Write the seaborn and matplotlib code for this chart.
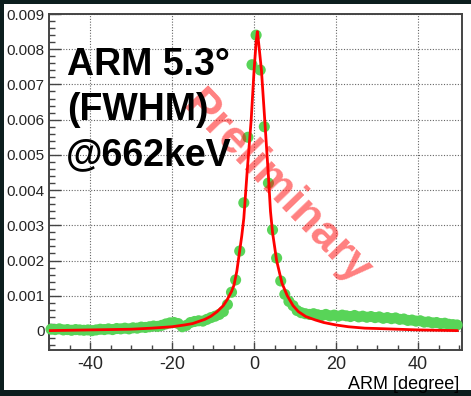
import numpy as np
import pandas as pd
import matplotlib
matplotlib.use("Agg")
import matplotlib.pyplot as plt
import seaborn as sns
from matplotlib.ticker import MultipleLocator, FuncFormatter
from matplotlib.patches import Rectangle

# ---- data ----
bin_centers = np.arange(-49.5, 50.0, 1.0)
counts = [
    0.00005, 0.00004, 0.00006, 0.00003, 0.00004, 0.00002, 0.00004, 0.00003, 0.00002, 0.00003,
    0.00001, 0.00003, 0.00005, 0.00004, 0.00006, 0.00004, 0.00007, 0.00006, 0.00008, 0.00006,
    0.00009, 0.00008, 0.00011, 0.00010, 0.00012, 0.00014, 0.00013, 0.00016, 0.00020, 0.00023,
    0.00024, 0.00021, 0.00012, 0.00016, 0.00024, 0.00027, 0.00029, 0.00028, 0.00033, 0.00038,
    0.00042, 0.00047, 0.00055, 0.00075, 0.00110, 0.00145, 0.00227, 0.00364, 0.00550, 0.00756,
    0.00840, 0.00741, 0.00580, 0.00420, 0.00287, 0.00207, 0.00142, 0.00104, 0.00084, 0.00072,
    0.00058, 0.00052, 0.00049, 0.00047, 0.00049, 0.00046, 0.00044, 0.00047, 0.00043, 0.00045,
    0.00042, 0.00045, 0.00043, 0.00041, 0.00044, 0.00040, 0.00042, 0.00039, 0.00041, 0.00038,
    0.00040, 0.00036, 0.00038, 0.00035, 0.00037, 0.00033, 0.00034, 0.00030, 0.00031, 0.00028,
    0.00029, 0.00025, 0.00026, 0.00023, 0.00024, 0.00021, 0.00022, 0.00019, 0.00018, 0.00017,
]

fit_x = [-50, -40, -30, -25, -20, -17, -15, -12, -10.5, -9, -7.5, -6.5, -5.5, -4.9, -4.2,
         -3.6, -3.0, -2.5, -1.7, -0.7, 0.0, 0.5, 0.8, 1.1, 1.8, 2.6, 3.5, 4.0, 4.5, 5.5,
         6.8, 8.1, 9.5, 10.8, 12.6, 15, 17, 20, 23, 27, 30, 35, 40, 45, 49.6]
fit_y = [0.00001, 0.00003, 0.00005, 0.00008, 0.00012, 0.00017, 0.00021, 0.00033, 0.00042,
         0.00055, 0.00072, 0.00090, 0.00112, 0.00130, 0.00170, 0.00220, 0.00270, 0.00320,
         0.00450, 0.00600, 0.00740, 0.00820, 0.00850, 0.00820, 0.00740, 0.00600, 0.00440,
         0.00340, 0.00280, 0.00200, 0.00136, 0.00100, 0.00072, 0.00055, 0.00041, 0.00031,
         0.00024, 0.00017, 0.00012, 0.00008, 0.00007, 0.00005, 0.00003, 0.00002, 0.00001]

x_ticks = [-40, -20, 0, 20, 40]
y_ticks = [0, 0.001, 0.002, 0.003, 0.004, 0.005, 0.006, 0.007, 0.008, 0.009]
x_label = "ARM [degree]"
annot_lines = ["ARM 5.3°", "(FWHM)", "@662keV"]
watermark = "Preliminary"

# ---- style ----
sns.set_style("white")
plt.rcParams["font.family"] = ["Liberation Sans", "DejaVu Sans"]
plt.rcParams["axes.unicode_minus"] = False

W, H = 471, 396
fig = plt.figure(figsize=(W / 100, H / 100), dpi=100, facecolor="#0c1e1e")
fig.patches.append(Rectangle((4 / W, 6 / H), 1 - 4 / W, 1 - 10 / H,
                             transform=fig.transFigure, facecolor="white",
                             edgecolor="none", zorder=-10))

ax = fig.add_axes([49 / W, 1 - 350 / H, (462 - 49) / W, (350 - 14) / H])
ax.set_facecolor("white")

df_pts = pd.DataFrame({"x": bin_centers, "y": counts})
df_fit = pd.DataFrame({"x": fit_x, "y": fit_y})

sns.scatterplot(data=df_pts, x="x", y="y", ax=ax, color="#58d458", s=64,
                edgecolor="none", linewidth=0, zorder=3, clip_on=False, legend=False)
sns.lineplot(data=df_fit, x="x", y="y", ax=ax, color="red", linewidth=2.0,
             zorder=4, sort=False, legend=False)

ax.set_xlim(-50, 50.7)
ax.set_ylim(-0.00054, 0.009)

ax.set_xticks(x_ticks)
ax.set_yticks(y_ticks)
ax.xaxis.set_minor_locator(MultipleLocator(5))
ax.yaxis.set_minor_locator(MultipleLocator(0.0002))
ax.yaxis.set_major_formatter(FuncFormatter(lambda v, p: "0" if abs(v) < 1e-12 else f"{v:.3f}"))

ax.tick_params(axis="x", which="major", direction="in", length=6, width=1, color="#444444",
               labelsize=13, pad=4, top=False, bottom=True)
ax.tick_params(axis="x", which="minor", direction="in", length=3.6, width=1, color="#444444",
               top=False, bottom=True)
ax.tick_params(axis="y", which="major", direction="in", length=8.5, width=1, color="#444444",
               labelsize=11, pad=3, right=False, left=True)
ax.tick_params(axis="y", which="minor", direction="in", length=4.3, width=1, color="#444444",
               right=False, left=True)

ax.grid(True, which="major", color="#666666", linestyle=(0, (1, 1.5)), linewidth=0.8, zorder=1)
ax.set_axisbelow(True)
for s in ax.spines.values():
    s.set_color("#444444")
    s.set_linewidth(1.4)

ax.set_xlabel("")
ax.set_ylabel("")
fig.text(459 / W, 1 - 389 / H, x_label, ha="right", va="baseline", fontsize=13, color="black")

# annotation text
ys = [75, 120, 165]
xs = [67, 67, 66]
for t, xx, yy in zip(annot_lines, xs, ys):
    fig.text(xx / W, 1 - yy / H, t, ha="left", va="baseline", fontsize=27,
             fontweight="bold", color="black", zorder=6)

ax.text(277 / W, 1 - 189 / H, watermark, transform=fig.transFigure, ha="center", va="center",
        rotation=-46, fontsize=33, fontweight="bold", color="red", alpha=0.5, zorder=5)

fig.savefig("out.png", dpi=100, facecolor=fig.get_facecolor())
